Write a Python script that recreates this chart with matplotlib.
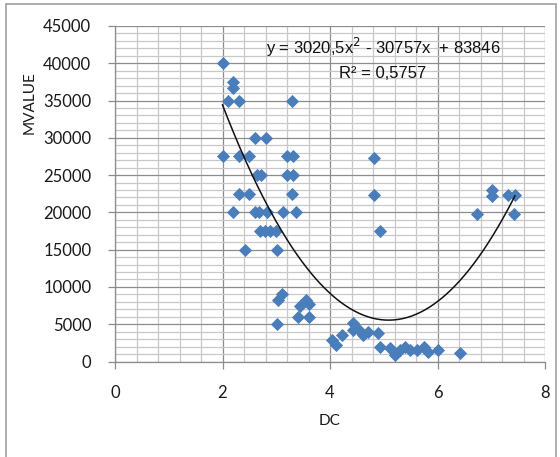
import matplotlib
matplotlib.use("Agg")

import matplotlib.pyplot as plt
import matplotlib.patches as mpatches
import numpy as np
from matplotlib.ticker import MultipleLocator

plt.rcParams["font.family"] = ["Lato", "DejaVu Sans"]

# ── data ────────────────────────────────────────────────────────────
dc = [
    2.00, 2.00, 2.11, 2.20, 2.20, 2.20, 2.31, 2.31, 2.31, 2.41,
    2.50, 2.50, 2.60, 2.60, 2.65, 2.68, 2.72, 2.70, 2.79, 2.80,
    2.82, 2.88, 2.99, 3.01, 3.03, 3.10, 3.02, 3.12, 3.20, 3.20,
    3.30, 3.30, 3.32, 3.32, 3.36, 3.41, 3.45, 3.55, 3.60, 3.60,
    4.03, 4.11, 4.22, 4.43, 4.43, 4.53, 4.62, 4.71, 4.90, 4.93,
    5.12, 5.21, 5.30, 5.40, 5.49, 5.61, 5.74, 5.83, 6.01, 6.42,
    4.82, 4.82, 4.93,
    6.73, 7.01, 7.01, 7.32, 7.44, 7.42,
]
mvalue = [
    40000, 27500, 35000, 37500, 36700, 20000, 35000, 27500, 22500, 15000,
    27500, 22500, 30000, 20000, 25000, 20000, 25000, 17500, 17500, 30000,
    20000, 17500, 17500, 15000, 8300, 9000, 5000, 20000, 27500, 25000,
    35000, 22500, 27500, 25000, 20000, 6000, 7400, 8200, 7700, 6000,
    2900, 2200, 3500, 5100, 4200, 4400, 3500, 4000, 3800, 2000,
    1800, 900, 1500, 2000, 1500, 1500, 2000, 1300, 1500, 1100,
    27300, 22300, 17500,
    19800, 23000, 22200, 22300, 22300, 19800,
]

# polynomial trendline shown on the chart
trend_coef = [3020.5, -30757, 83846]
eq_text = "y = 3020,5x$^2$ - 30757x  + 83846"
r2_text = "R² = 0,5757"

x_ticks = [0, 2, 4, 6, 8]
y_ticks = list(range(0, 45001, 5000))

fig = plt.figure(figsize=(5.6, 4.57), dpi=100)
fig.patch.set_facecolor("white")

# outer chart frame
frame = mpatches.Rectangle((6 / 560, -0.05), 550 / 560, 1.05 - 4 / 457,
                           transform=fig.transFigure, fill=False,
                           edgecolor="#a6a6a6", linewidth=1.3)
fig.patches.append(frame)

ax = fig.add_axes([115 / 560, 1 - 361.5 / 457, 430 / 560, 335.5 / 457])
ax.set_xlim(0, 8)
ax.set_ylim(0, 45000)

ax.xaxis.set_major_locator(MultipleLocator(2))
ax.xaxis.set_minor_locator(MultipleLocator(0.4))
ax.yaxis.set_major_locator(MultipleLocator(5000))
ax.yaxis.set_minor_locator(MultipleLocator(1000))

ax.grid(which="minor", color="#c8c8c8", linewidth=0.9)
ax.grid(which="major", color="#8c8c8c", linewidth=0.9)
ax.set_axisbelow(True)

for side in ["top", "right"]:
    ax.spines[side].set_visible(False)
for side in ["left", "bottom"]:
    ax.spines[side].set_color("#8c8c8c")
    ax.spines[side].set_linewidth(0.9)

ax.tick_params(which="major", direction="out", length=5, width=0.9,
               color="#8c8c8c", labelsize=12, labelcolor="#1a1a1a")
ax.tick_params(which="minor", length=0)
ax.tick_params(axis="x", pad=12)
ax.tick_params(axis="y", pad=12)
ax.set_xticks(x_ticks)
ax.set_yticks(y_ticks)
ax.set_xticklabels([str(v) for v in x_ticks])
ax.set_yticklabels([str(v) for v in y_ticks])

# scatter points
ax.plot(dc, mvalue, linestyle="none", marker="D", markersize=6,
        color="#4a7ebb", markeredgecolor="#4a7ebb", markeredgewidth=0.6,
        zorder=3)

# trendline over the data range
xs = np.linspace(min(dc), max(dc), 200)
ax.plot(xs, np.polyval(trend_coef, xs), color="#111111", linewidth=1.1,
        zorder=4)

ax.text(4.99, 42150, eq_text, ha="center", va="center", fontsize=12,
        family=["Liberation Sans Narrow", "Liberation Sans"], color="#111111",
        zorder=5)
ax.text(4.97, 38600, r2_text, ha="center", va="center", fontsize=12,
        family=["Liberation Sans Narrow", "Liberation Sans"], color="#111111",
        zorder=5)

fig.text(30 / 560, 1 - 103 / 457, "MVALUE", rotation=90, ha="center",
         va="center", fontsize=11, color="#1a1a1a")
fig.text(330 / 560, 1 - 421 / 457, "DC", ha="center", va="center",
         fontsize=11, color="#1a1a1a")

fig.savefig("out.png", dpi=100, facecolor="white")
